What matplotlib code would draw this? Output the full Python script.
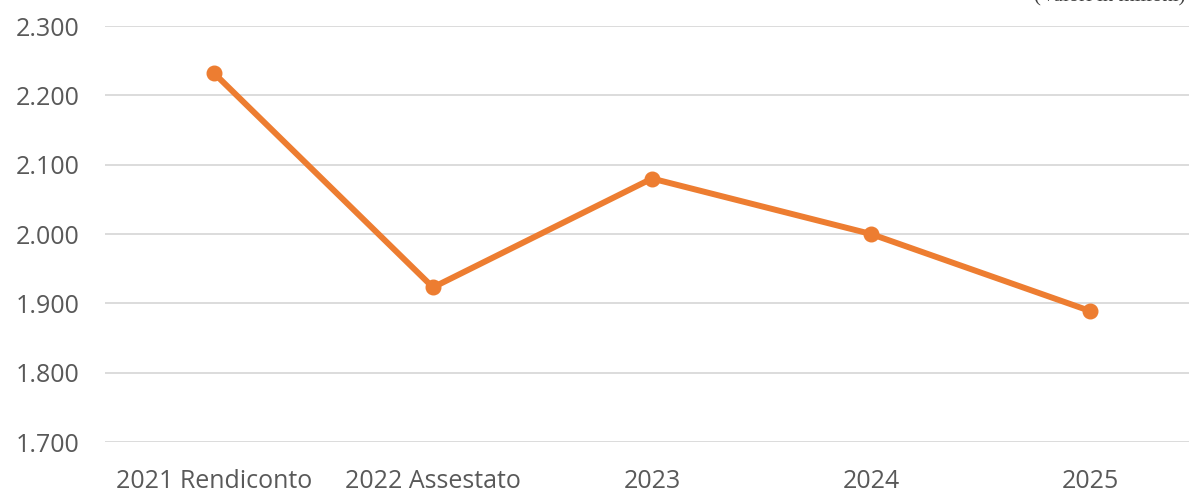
import matplotlib.pyplot as plt

categorie = ["2021 Rendiconto", "2022 Assestato", "2023", "2024", "2025"]
valori = [2.232, 1.923, 2.080, 2.000, 1.889]
tick_y = [1.7, 1.8, 1.9, 2.0, 2.1, 2.2, 2.3]
tick_y_lab = ["1.700", "1.800", "1.900", "2.000", "2.100", "2.200", "2.300"]

arancio = "#ED7D31"
grigio = "#595959"

plt.rcParams['font.family'] = ['Open Sans', 'DejaVu Sans']

fig = plt.figure(figsize=(11.89, 4.93), dpi=100)
# l'area del grafico continua oltre il bordo destro
ax = fig.add_axes([104.5 / 1189, 1 - 442 / 493, 1095 / 1189, 416 / 493])

x = list(range(len(categorie)))
ax.plot(x, valori, color=arancio, linewidth=4.3, marker="o", markersize=10.5,
        solid_capstyle="round", zorder=3)

ax.set_xlim(-0.5, len(categorie) - 0.5)
ax.set_ylim(1.7, 2.3)
ax.set_yticks(tick_y)
ax.set_yticklabels(tick_y_lab)
ax.set_xticks(x)
ax.set_xticklabels(categorie)

for s in ax.spines.values():
    s.set_visible(False)
ax.grid(axis="y", color="#D9D9D9", linewidth=1.3, zorder=0)
ax.tick_params(axis="both", length=0, labelsize=18, labelcolor=grigio)
ax.tick_params(axis="y", pad=18)
ax.tick_params(axis="x", pad=19.5)

fig.text(0.997, 1 - 1 / 493, "(Valori in milioni)", ha="right", va="baseline",
         family="Liberation Serif", fontsize=15, color="#404040")

fig.savefig("out.png", dpi=100)
